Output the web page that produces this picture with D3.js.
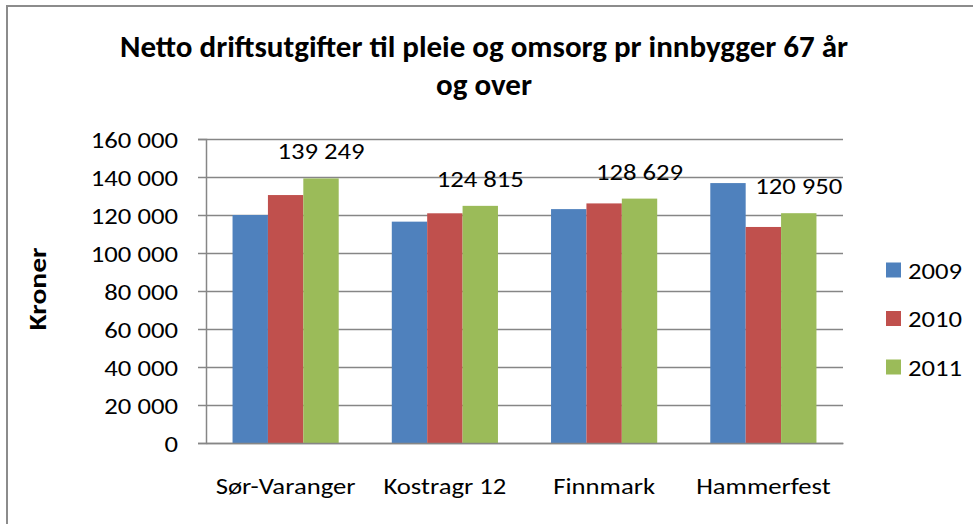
<!DOCTYPE html>
<html>
<head>
<meta charset="utf-8">
<script src="https://cdn.jsdelivr.net/npm/d3@7"></script>
<style>
  html, body { margin: 0; padding: 0; background: #fff; }
  svg { display: block; font-family: Calibri, Carlito, Lato, sans-serif; }
</style>
</head>
<body>
<svg id="chart" width="973" height="524"></svg>
<script>
// ---- data ----
const categories = ["Sør-Varanger", "Kostragr 12", "Finnmark", "Hammerfest"];
const seriesNames = ["2009", "2010", "2011"];
const values2009 = [120000, 116500, 123100, 136800];
const values2010 = [130500, 120900, 126100, 113700];
const values2011 = [139249, 124815, 128629, 120950];
const labelled2011 = ["139 249", "124 815", "128 629", "120 950"];
const yTicks = [0, 20000, 40000, 60000, 80000, 100000, 120000, 140000, 160000];
const titleLines = ["Netto driftsutgifter til pleie og omsorg pr innbygger 67 år", "og over"];
const yAxisTitle = "Kroner";
const colors = ["#4F81BD", "#C0504D", "#9BBB59"];

const seriesValues = [values2009, values2010, values2011];

const svg = d3.select("#chart");
const W = 973, H = 524;
const plot = { left: 206, right: 843, top: 139, bottom: 443 };
const gridColor = "#868686";
const FS = 23, STRETCH = 1.16;

function stretch(sel, k) {
  sel.each(function () {
    const len = this.getComputedTextLength();
    d3.select(this).attr("textLength", len * k).attr("lengthAdjust", "spacingAndGlyphs");
  });
}

// outer frame (only top/left visible in reference)
svg.append("rect").attr("x", 7).attr("y", 6).attr("width", W + 20).attr("height", H + 20)
  .attr("fill", "none").attr("stroke", "#8c8c8c").attr("stroke-width", 2);

const x0 = d3.scaleBand().domain(categories).range([plot.left, plot.right]).padding(0);
const bw = x0.bandwidth();
const unit = bw / 4.5;
const x1 = d3.scaleBand().domain(seriesNames).range([unit * 0.75, bw - unit * 0.75]).padding(0);
const y = d3.scaleLinear().domain([0, 160000]).range([plot.bottom, plot.top]);

const fmt = v => d3.format(",")(v).replace(/,/g, " ");

// gridlines
svg.append("g").selectAll("line").data(yTicks).join("line")
  .attr("x1", plot.left).attr("x2", plot.right)
  .attr("y1", d => Math.round(y(d)) + 0.5).attr("y2", d => Math.round(y(d)) + 0.5)
  .attr("stroke", gridColor).attr("stroke-width", 1.5);

// y axis
const yAxis = d3.axisLeft(y).tickValues(yTicks).tickFormat(fmt).tickSize(8).tickPadding(20);
const gy = svg.append("g").attr("transform", `translate(${plot.left},0)`).call(yAxis);
gy.select(".domain").attr("stroke", gridColor).attr("stroke-width", 1.5);
gy.selectAll(".tick line").attr("stroke", gridColor).attr("stroke-width", 1.5);
gy.selectAll(".tick text").attr("font-size", FS).attr("fill", "#000")
  .attr("font-family", "Calibri, Carlito, Lato, sans-serif").attr("dy", "0.36em");
stretch(gy.selectAll(".tick text"), STRETCH);

// bars
const groups = svg.append("g").selectAll("g").data(categories).join("g")
  .attr("transform", d => `translate(${x0(d)},0)`);
groups.selectAll("rect")
  .data((c, i) => seriesNames.map((s, j) => ({ s, j, v: seriesValues[j][i] })))
  .join("rect")
  .attr("x", d => x1(d.s)).attr("width", x1.bandwidth())
  .attr("y", d => y(d.v)).attr("height", d => y(0) - y(d.v))
  .attr("fill", d => colors[d.j]);

// x axis
const xAxis = d3.axisBottom(x0).tickSize(0).tickPadding(35);
const gx = svg.append("g").attr("transform", `translate(0,${plot.bottom})`).call(xAxis);
gx.select(".domain").attr("stroke", gridColor).attr("stroke-width", 1.5);
gx.selectAll(".tick text").attr("font-size", FS).attr("fill", "#000")
  .attr("font-family", "Calibri, Carlito, Lato, sans-serif");
stretch(gx.selectAll(".tick text"), STRETCH);

// data labels for 2011
const dl = svg.append("g").selectAll("text").data(categories).join("text")
  .attr("x", (c) => x0(c) + x1("2011") + x1.bandwidth() / 2)
  .attr("y", (c, i) => y(values2011[i]) - 19)
  .attr("text-anchor", "middle").attr("font-size", FS).attr("fill", "#000")
  .text((c, i) => labelled2011[i]);
stretch(dl, STRETCH);

// title
const title = svg.append("g").attr("font-weight", "bold").attr("font-size", 31).attr("fill", "#000");
const t1 = title.append("text").attr("x", 484).attr("y", 57).attr("text-anchor", "middle").text(titleLines[0]);
const t2 = title.append("text").attr("x", 484).attr("y", 95).attr("text-anchor", "middle").text(titleLines[1]);
const k = 728 / t1.node().getComputedTextLength();
[t1, t2].forEach(t => t.attr("textLength", t.node().getComputedTextLength() * k).attr("lengthAdjust", "spacingAndGlyphs"));

// y axis title
const yt = svg.append("text").attr("transform", "translate(46,289) rotate(-90)")
  .attr("text-anchor", "middle").attr("font-weight", "bold").attr("font-size", 24)
  .text(yAxisTitle);
stretch(yt, 83 / yt.node().getComputedTextLength());

// legend
const legend = svg.append("g").selectAll("g").data(seriesNames).join("g")
  .attr("transform", (d, i) => `translate(886,${270 + i * 48.5})`);
legend.append("rect").attr("x", 0).attr("y", -7.5).attr("width", 15).attr("height", 15)
  .attr("fill", (d, i) => colors[i]);
const lt = legend.append("text").attr("x", 22).attr("y", 8.5).attr("font-size", FS).attr("fill", "#000").text(d => d);
stretch(lt, STRETCH);
</script>
</body>
</html>
